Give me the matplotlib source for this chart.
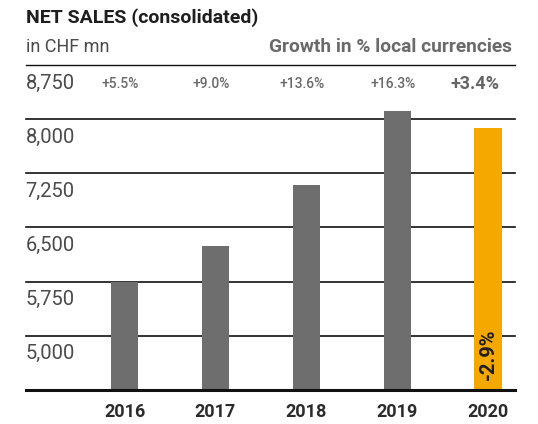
import matplotlib.pyplot as plt
from matplotlib.transforms import offset_copy

# data
years = ['2016', '2017', '2018', '2019', '2020']
sales = [5748, 6248, 7085, 8109, 7878]
growth = ['+5.5%', '+9.0%', '+13.6%', '+16.3%', '+3.4%']
grid_vals = [8750, 8000, 7250, 6500, 5750, 5000, 4250]
tick_labels = ['8,750', '8,000', '7,250', '6,500', '5,750', '5,000']
change_2020 = '-2.9%'

plt.rcParams['font.family'] = ['Roboto', 'DejaVu Sans']

W, H = 538, 424
fig = plt.figure(figsize=(W / 100, H / 100), dpi=100)
# axes: lines run from x=26 to x=515, from y=65 (8750) to y=390 (4250)
ax = fig.add_axes([25.7 / W, (H - 390) / H, (515 - 25.7) / W, (390 - 65) / H])
ax.set_xlim(-1.087, 4.296)
ax.set_ylim(4250, 8750)
ax.axis('off')

cols = ['#6e6e6e'] * 4 + ['#f5a800']
ax.bar(range(len(years)), sales, width=0.30, color=cols, zorder=3)

# horizontal lines
for i, v in enumerate(grid_vals):
    lw = 1.2
    if i == 0:
        lw = 1.0
    if i == len(grid_vals) - 1:
        lw = 2.2
    ax.axhline(v, color='#111111', lw=lw, zorder=2 if i < len(grid_vals) - 1 else 4,
               clip_on=False)

# y labels sit under each line
lab_tr = offset_copy(ax.transData, fig=fig, x=0, y=-18, units='dots')
for v, t in zip(grid_vals, tick_labels):
    ax.text(-1.087, v, t, transform=lab_tr, ha='left', va='center',
            fontsize=14.5, color='#4a4a4a')

# growth labels on top row
gr_tr = offset_copy(ax.transData, fig=fig, x=-4, y=-19, units='dots')
for i, g in enumerate(growth):
    if i == len(growth) - 1:
        ax.text(i + 0.17, 8750, g, transform=gr_tr, ha='right', va='center',
                fontsize=13, fontweight='bold', color='#666666')
    else:
        ax.text(i, 8750, g, transform=gr_tr, ha='center', va='center',
                fontsize=10, fontweight='medium', color='#6a6a6a')

# year labels
yr_tr = offset_copy(ax.transData, fig=fig, x=0, y=-22, units='dots')
for i, y in enumerate(years):
    ax.text(i, 4250, y, transform=yr_tr, ha='center', va='center',
            fontsize=13, fontweight='bold', color='#2b2b2b')

# 2020 change inside the bar
ax.text(4, 4250, change_2020, transform=offset_copy(ax.transData, fig=fig, x=0, y=36, units='dots'),
        rotation=90, ha='center', va='center', fontsize=14.5, fontweight='bold',
        color='#1e1e1e', zorder=5)

# header texts
fig.text(26 / W, 1 - 18 / H, 'NET SALES (consolidated)', ha='left', va='center',
         fontsize=14, fontweight='bold', color='#1e1e1e')
fig.text(26 / W, 1 - 47 / H, 'in CHF mn', ha='left', va='center',
         fontsize=13, color='#4a4a4a')
fig.text(512 / W, 1 - 47 / H, 'Growth in % local currencies', ha='right', va='center',
         fontsize=13.8, fontweight='bold', color='#6a6a6a')

fig.savefig('out.png', dpi=100)
